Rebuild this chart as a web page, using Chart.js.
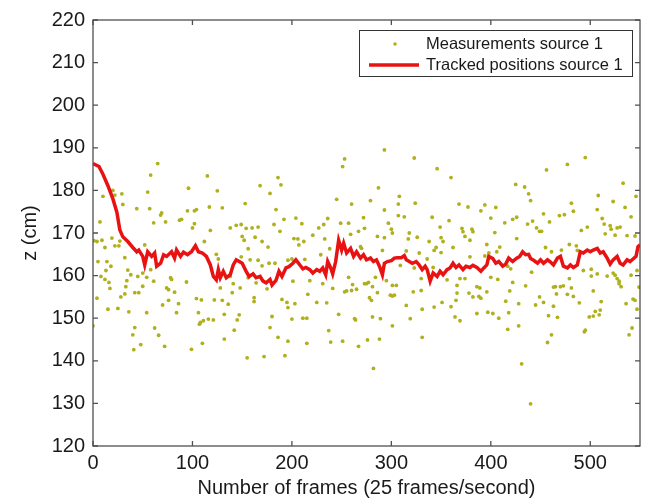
<!DOCTYPE html>
<html>
<head>
<meta charset="utf-8">
<script src="https://cdn.jsdelivr.net/npm/chart.js@4"></script>
<style>
  html, body { margin: 0; padding: 0; background: #fff; }
  canvas { display: block; }
</style>
</head>
<body>
<canvas id="chart" width="646" height="500"></canvas>
<script>
const measFrames = [
  65,58,96,10,20,22,29,30,55,57,44,69,68,95,102,104,7,61,73,87,89,102,100,1,4,9,19,27,12,22,26,52,32,5,14,18,13,35,38,45,50,54,58,8,12,16,34,33,17,50,61,78,79,94,74,76,82,32,28,42,46,4,76,86,104,109,15,25,36,54,70,84,106,108,107,0,42,62,40,66,48,41,72,99,110,
  115,125,168,178,186,189,117,130,153,184,138,144,149,154,160,166,182,188,192,204,210,118,112,150,152,163,170,156,176,202,206,207,212,221,124,126,149,158,166,170,177,183,196,200,213,127,138,156,141,128,148,164,175,201,218,216,122,130,136,140,162,162,190,195,203,196,132,147,145,180,200,211,215,111,116,121,142,178,186,132,196,155,172,193,215,
  293,253,323,251,287,308,245,260,279,324,293,307,307,313,236,232,227,249,257,272,297,300,233,259,267,273,286,293,301,318,317,326,238,269,270,291,315,328,229,279,309,323,257,284,295,301,305,261,231,330,241,253,255,260,265,273,275,277,281,286,299,301,303,322,330,278,280,225,235,315,331,247,263,264,281,289,319,301,237,239,251,267,276,288,331,282,
  346,360,425,434,438,440,368,377,394,390,405,400,341,358,414,422,426,437,442,349,371,372,381,382,404,426,338,350,352,374,379,396,409,345,343,350,362,398,406,336,379,394,362,342,417,420,441,356,369,374,400,407,422,435,366,386,389,366,378,396,419,382,388,390,365,351,415,428,343,360,386,397,402,408,418,364,369,417,428,431,440,
  495,477,456,533,546,508,481,523,483,507,453,469,474,535,541,459,512,514,520,521,527,530,446,449,451,491,497,537,545,525,515,479,471,461,486,487,455,493,501,501,507,517,523,525,527,529,529,531,541,547,479,463,465,470,473,481,503,466,477,483,449,453,543,445,463,489,511,536,458,467,499,503,505,510,509,461,457,494,495,539,542,547,545,549
];
const measZ = [
  186.3,183.6,180.5,178.6,180,178.9,179.2,176.7,179.6,175.7,175.7,174.7,174.2,175.2,175.2,175.5,172.6,172.4,172.6,173,173.2,172.2,171.2,168.2,168,168.3,168.8,168.1,166.6,167,167,167.2,164.2,163.3,163.3,162.2,161.2,161.3,160.2,159.8,160.6,159.6,161.4,159.8,159.1,158.4,158.8,157.4,157,157.5,158.7,159.5,159.1,158.5,157.1,156.7,156.1,155.7,155,156,156,154.7,154.2,153.4,154.6,154.3,152.1,152.3,151.5,151.3,153.1,151.3,151.3,149,148.6,148.2,147.8,147.7,146.1,146,143.8,142.6,143.4,142.7,144.1,
  183.4,179.9,181.1,179.3,183,181.3,176.1,175.9,176.9,175.5,171.2,171.8,172,171.1,171.2,171.4,172,170.4,173.2,173.5,172.2,170.6,168,169.2,168.3,169,168,166.3,166.7,168.7,168.6,167.2,168,169.5,165,163.9,164.4,163.7,163.6,162.3,162.9,162.9,163.6,163.9,163.8,160.2,159.8,159.5,158.1,157.1,157.1,158.3,156.9,158.7,158.8,155.6,154.3,154.2,153.3,156,154.8,153.9,154.4,153.7,153.4,152.5,150.9,150.8,149.6,150.4,149.8,150,150,149.4,149.8,149.6,147.2,147.8,145.5,145.1,144.6,140.7,141,141.2,144.1,
  189.5,187.4,187.6,185.6,180.6,178.6,177.9,176.8,177.6,177,175.4,176.8,174.1,173.8,173.4,172,171.2,172.3,172.3,173.6,172.3,170.9,168.6,169.7,170.4,171.1,169.2,168.9,170,170,168.6,169,166.3,166.8,166.4,165.9,165.8,165.3,164.9,164.1,162.4,161.8,159.6,159.6,158.8,157.7,157.7,157.9,158.1,159.3,157,156.2,156.4,156.5,156.8,158.1,158.1,158.4,157.4,156,155.4,155.2,155.4,156.2,156.5,154.8,154.2,153.7,153.6,153,152.1,150.9,149.9,149.6,150.3,149.9,149.9,148.2,147.1,144.4,144.6,143.4,144.9,145.1,145.5,138.2,
  185.1,183,181.4,180.8,179.2,177.6,176.8,176.1,176.6,175.2,176,173.5,173.7,172.9,172.4,173.2,173.7,172.1,172.8,171.4,171.1,170.3,170.9,170.3,170.1,168.7,168,168.9,168,169.2,168.3,167.3,166.7,166.6,165.9,165.4,166.6,165.3,165.6,163.9,164.4,164.6,162.4,161.9,162.2,161.6,160.8,159,159.3,159.3,159.6,159.1,158.4,157.6,157.7,157.4,157.1,155.9,155.9,156.2,156.4,155,155.1,154.7,154.2,153.7,154,153.4,152.6,152.7,151.1,151.4,151.1,150,151.3,150.3,149.4,147.4,148.2,139.3,129.9,
  187.7,186.1,184.8,181.7,178.6,178.8,177,177.4,175.1,175.5,174.5,174.1,174.3,176,173.8,172.6,173.4,172.1,171.7,170.9,171.2,171.4,171.2,170.4,170.4,170.6,171.4,169.4,169.3,169.5,169.8,167.3,166,165.6,167,165.9,166.6,161.2,161.5,159.9,160.4,159.9,160.6,160.1,159.3,158.7,158.1,157.4,160.1,161.2,159.3,157.3,157.4,157.4,157.6,157.1,156.4,155.7,155.6,155.1,155,153.7,154.5,153.1,152.8,153.6,153.9,153.4,150.6,150.2,150.3,150.5,151.6,151.9,150.8,146.1,144.3,146.8,147.2,146.1,147.7,152.1,154.2,157.3
];

// tracked positions
const trackFrames = [
  0,6,10,15,20,24,27,30,35,40,44,46,50,52,55,59,62,64,68,71,74,79,82,84,88,91,95,99,103,106,110,
  114,118,121,124,126,128,131,134,138,141,144,147,150,154,157,161,164,168,171,174,178,180,184,187,190,194,197,201,204,208,211,214,218,
  221,225,228,231,234,236,239,241,244,247,250,252,255,259,262,265,269,272,275,279,282,285,288,291,293,296,300,303,306,310,313,315,318,321,325,328,331,
  334,336,339,342,346,349,352,356,359,362,365,368,372,375,379,382,386,390,393,396,398,402,405,408,412,415,418,422,426,429,432,435,438,
  440,443,447,450,453,457,460,463,467,470,473,477,480,483,487,490,493,497,500,503,507,510,513,517,520,523,527,530,533,537,540,543,546,548,550
];
const trackZ = [
  186.3,185.6,183.8,181.1,178,174.9,170.7,169.1,168,166.6,165.6,166,164.5,162.5,165.6,164.5,165.3,162.2,162.9,164.9,164.5,165.6,164.1,166,164.5,165.5,164.9,165.6,167,165.6,165.3,
  164.5,162.5,159.8,159,161.4,159.5,161,159.5,160.2,162.5,163.7,163.3,162.9,161,159.8,160.4,159.5,159.8,158.7,158.3,159.1,157.8,158.9,161,159.8,161.8,162.1,162.9,163.7,162.5,161.6,161.9,161.4,
  160.6,161.4,161,161.8,160.2,163.3,161.8,160.4,163.3,168.3,166,167.6,165.3,166.4,164.5,165.6,164.1,164.9,163.7,164.1,163.3,163.7,162.2,160.2,162.9,163.3,163.5,164.1,164.2,164.2,164.7,163.7,163.3,162.9,163.3,162.5,161.4,
  162.2,161.4,158.7,160.6,159.8,161,160.2,161.4,161.8,162.9,161.9,162.5,161.4,162.2,161.9,162.4,161.9,161,161.8,162.5,164.5,164,162.9,163.3,162.2,162.7,164.1,163.3,164.1,164.5,165.6,164.9,165,
  164,163.6,162.9,163.7,162.9,163.7,163.2,162.5,164.1,164.5,162.2,161.8,162.5,161.9,162.5,165.6,165.3,166,165.6,166,166.4,165.3,165.6,164.1,162.7,163.7,164.5,162.9,162.5,163.7,163.3,163.9,164.5,166.8,167.2
];

const xTicks = [0, 100, 200, 300, 400, 500];
const yTicks = [120, 130, 140, 150, 160, 170, 180, 190, 200, 210, 220];
const labelMeas = 'Measurements source 1';
const labelTrack = 'Tracked positions source 1';

const FONT = "'Liberation Sans', Arial, Helvetica, sans-serif";
const DOT = '#b0b01c';
const RED = '#e81212';

const zip = (xs, ys) => xs.map((x, i) => ({x, y: ys[i]}));

// matlab style box with inward ticks on all four sides
const boxTicks = {
  id: 'boxTicks',
  afterDatasetsDraw(chart){
    const {ctx, chartArea: a, scales: {x, y}} = chart;
    ctx.save();
    ctx.strokeStyle = '#505050';
    ctx.lineWidth = 1.3;
    ctx.strokeRect(a.left, a.top, a.right - a.left, a.bottom - a.top);
    ctx.beginPath();
    x.ticks.forEach(t => {
      const px = x.getPixelForValue(t.value);
      ctx.moveTo(px, a.bottom); ctx.lineTo(px, a.bottom - 5);
      ctx.moveTo(px, a.top); ctx.lineTo(px, a.top + 5);
    });
    y.ticks.forEach(t => {
      const py = y.getPixelForValue(t.value);
      ctx.moveTo(a.left, py); ctx.lineTo(a.left + 5, py);
      ctx.moveTo(a.right, py); ctx.lineTo(a.right - 5, py);
    });
    ctx.stroke();
    ctx.restore();
  }
};

const boxLegend = {
  id: 'boxLegend',
  afterDraw(chart){
    const {ctx, chartArea: a} = chart;
    const ds = chart.data.datasets;
    const right = a.right - 8, top = a.top + 10, w = 273, h = 46;
    const left = right - w;
    ctx.save();
    ctx.fillStyle = '#fff';
    ctx.fillRect(left, top, w, h);
    ctx.strokeStyle = '#333';
    ctx.lineWidth = 1;
    ctx.strokeRect(left + 0.5, top + 0.5, w, h);
    ctx.font = '16.5px ' + FONT;
    ctx.fillStyle = '#1a1a1a';
    ctx.textBaseline = 'middle';
    const r1 = top + 14, r2 = top + 35;
    ctx.fillText(ds[0].label, left + 67, r1);
    ctx.fillText(ds[1].label, left + 67, r2);
    ctx.fillStyle = DOT;
    ctx.beginPath(); ctx.arc(left + 36, r1, 1.8, 0, Math.PI * 2); ctx.fill();
    ctx.strokeStyle = RED;
    ctx.lineWidth = 3.5;
    ctx.beginPath(); ctx.moveTo(left + 10, r2); ctx.lineTo(left + 60, r2); ctx.stroke();
    ctx.restore();
  }
};

new Chart(document.getElementById('chart'), {
  type: 'scatter',
  data: {
    datasets: [
      {label: labelMeas, data: zip(measFrames, measZ), pointRadius: 1.9, pointHoverRadius: 1.9,
       backgroundColor: DOT, borderWidth: 0, order: 1},
      {label: labelTrack, data: zip(trackFrames, trackZ), showLine: true, pointRadius: 0,
       borderColor: RED, borderWidth: 3.5, tension: 0, order: 0}
    ]
  },
  options: {
    responsive: false,
    animation: false,
    layout: {padding: {left: 0, top: 16, right: 6, bottom: 0}},
    plugins: {legend: {display: false}, tooltip: {enabled: false}},
    scales: {
      x: {
        type: 'linear', min: 0, max: 550,
        afterBuildTicks: s => { s.ticks = xTicks.map(v => ({value: v})); },
        afterFit: s => { s.height = 54; },
        grid: {display: false, drawTicks: false},
        border: {display: false},
        ticks: {padding: 5, color: '#1a1a1a', font: {family: FONT, size: 20}, maxRotation: 0},
        title: {display: true, text: 'Number of frames (25 frames/second)', color: '#1a1a1a',
                font: {family: FONT, size: 20}, padding: {top: 0, bottom: 0}}
      },
      y: {
        type: 'linear', min: 120, max: 220,
        afterBuildTicks: s => { s.ticks = yTicks.map(v => ({value: v})); },
        afterFit: s => { s.width = 93; },
        grid: {display: false, drawTicks: false},
        border: {display: false},
        ticks: {padding: 8, color: '#1a1a1a', font: {family: FONT, size: 20}},
        title: {display: true, text: 'z (cm)', color: '#1a1a1a',
                font: {family: FONT, size: 20}, padding: {top: 18, bottom: 0}}
      }
    }
  },
  plugins: [boxTicks, boxLegend]
});
</script>
</body>
</html>
